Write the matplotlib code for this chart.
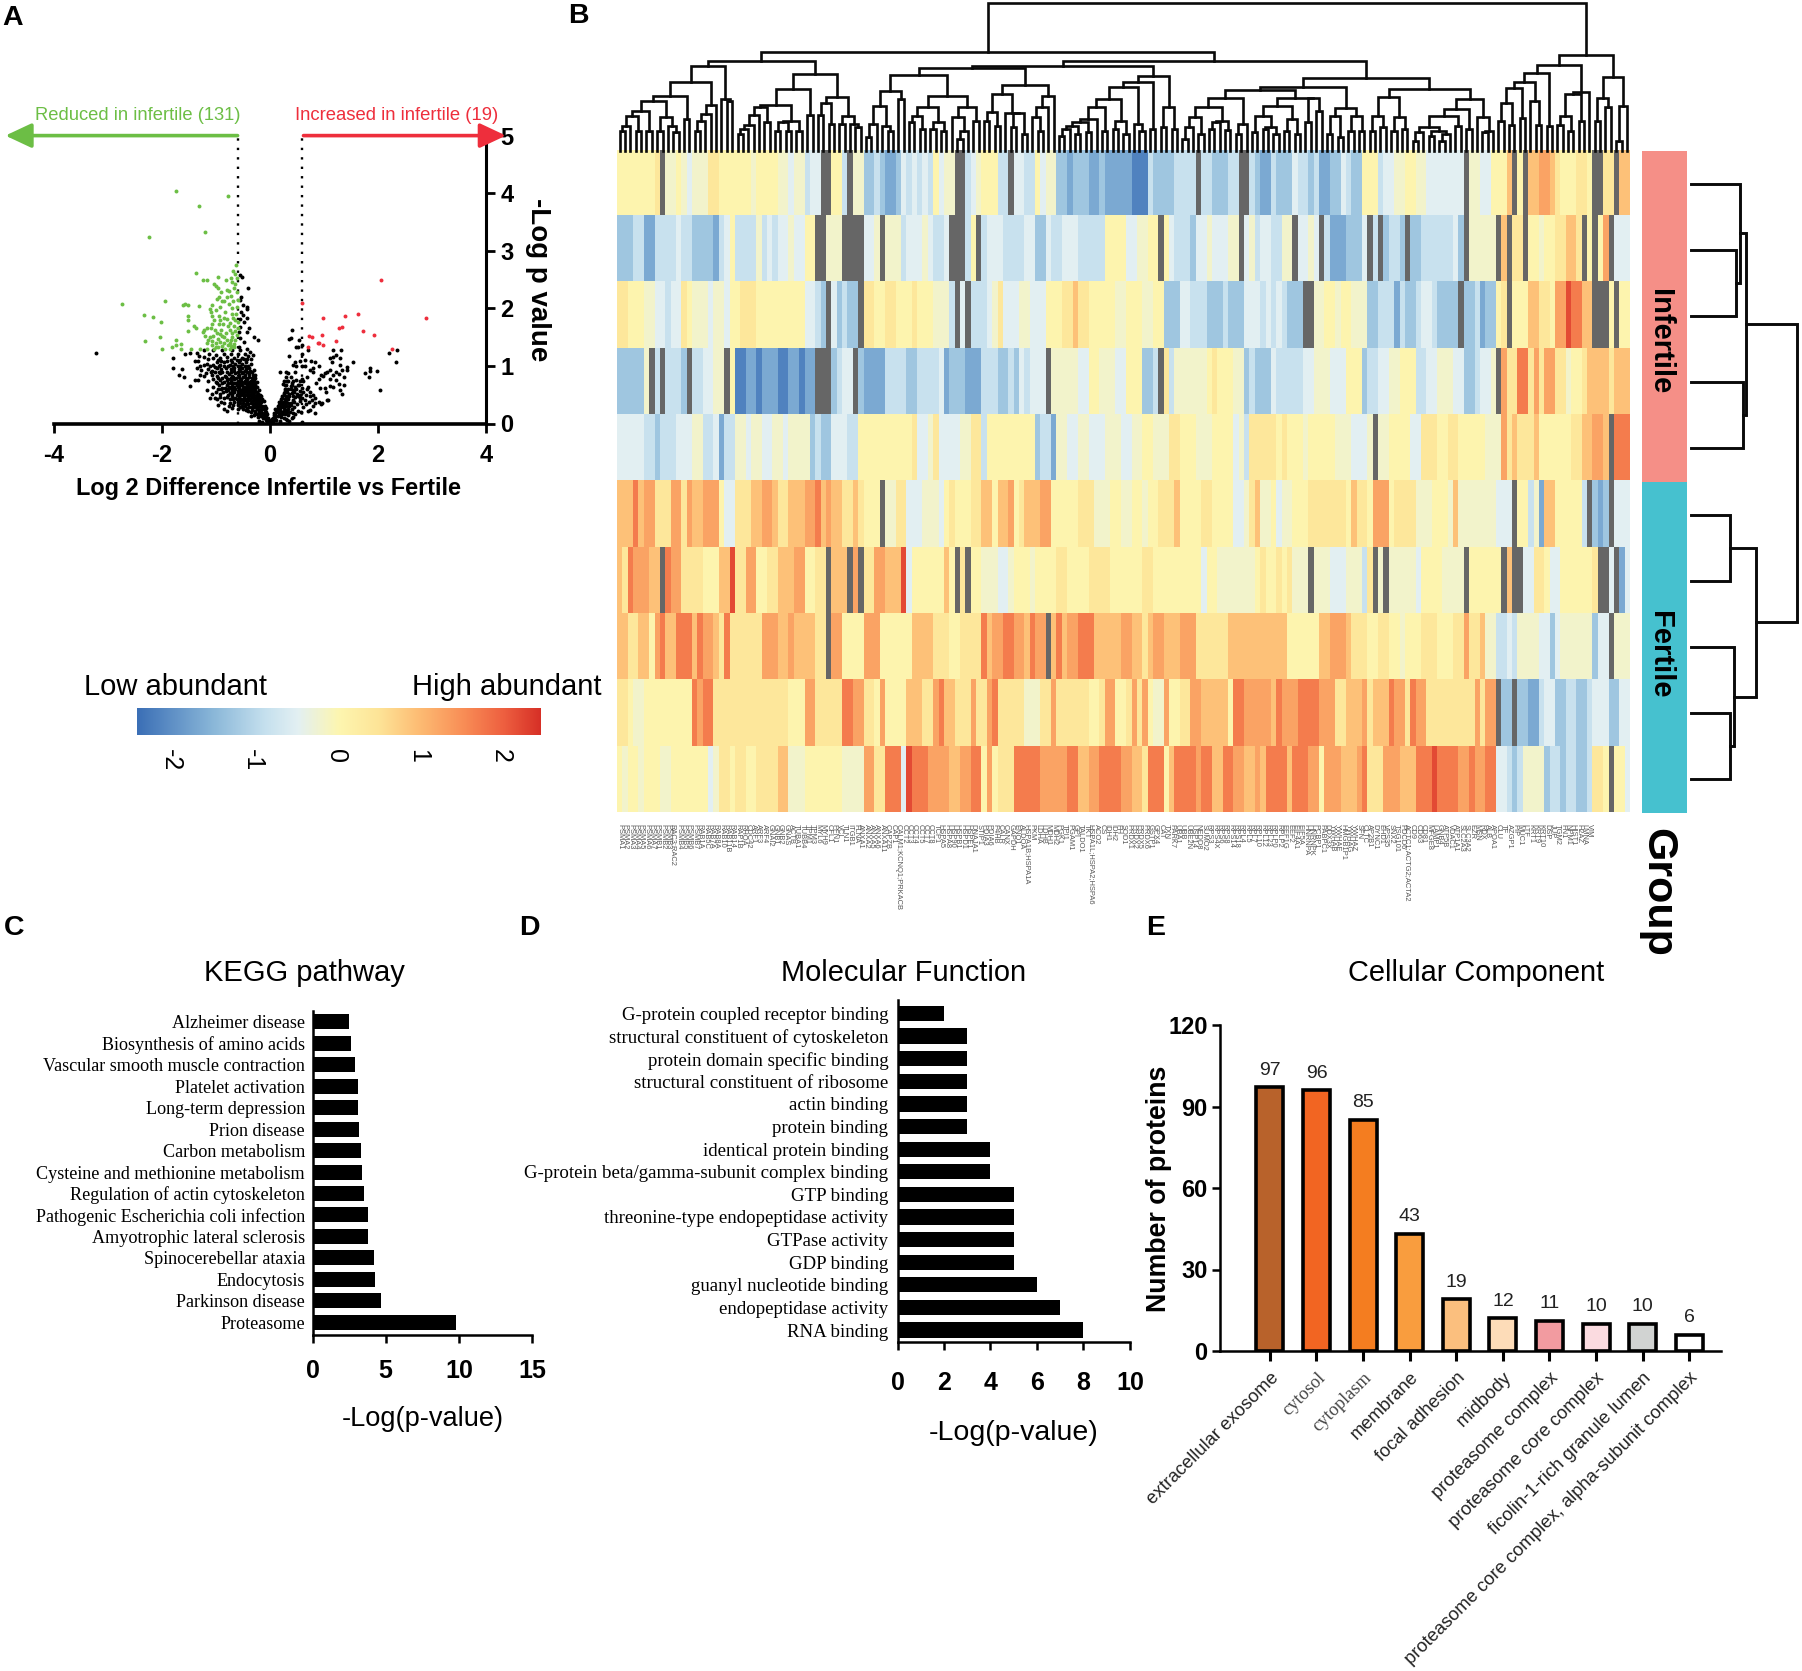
import numpy as np
import matplotlib
matplotlib.use('Agg')
import matplotlib.pyplot as plt
from matplotlib.colors import LinearSegmentedColormap, Normalize
from matplotlib.transforms import ScaledTranslation

W, H = 1802, 1671
SANS = 'Liberation Sans'
SERIF = 'Liberation Serif'
plt.rcParams['font.family'] = [SANS, 'DejaVu Sans']

# ---- panel A: volcano points
reduced_points = [(-1.74,4.03),(-0.77,3.95),(-1.31,3.78),(-2.24,3.24),(-1.21,3.33),
 (-0.63,2.75),(-1.37,2.61),(-0.68,2.64),(-0.96,2.54),(-1.25,2.49),(-1.16,2.49),(-0.82,2.50),(-0.73,2.52),(-0.65,2.60),
 (-0.71,2.46),(-0.64,2.43),(-1.04,2.43),(-1.0,2.39),(-0.96,2.35),(-0.79,2.31),(-0.62,2.29),(-0.72,2.21),(-0.99,2.17),
 (-0.94,2.20),(-0.80,2.19),(-0.85,2.13),(-0.89,2.12),(-0.60,2.14),(-1.95,2.13),(-2.75,2.07),(-1.62,2.05),(-1.57,2.07),
 (-1.51,2.05),(-1.31,2.04),(-1.08,2.06),(-1.12,1.98),(-1.10,1.94),(-0.93,2.02),(-0.83,1.94),(-0.71,2.0),(-0.63,1.91),
 (-2.33,1.88),(-2.17,1.85),(-1.51,1.87),(-1.51,1.80),(-1.08,1.87),(-1.04,1.80),(-0.94,1.87),(-0.93,1.80),(-0.79,1.81),
 (-0.69,1.83),(-0.65,1.80),(-0.60,1.77),(-2.02,1.76),(-1.41,1.69),(-1.37,1.66),(-1.51,1.61),(-1.23,1.63),(-1.25,1.59),
 (-1.16,1.65),(-1.10,1.65),(-1.02,1.63),(-0.99,1.58),(-0.78,1.69),(-0.75,1.62),(-0.71,1.58),(-0.64,1.61),(-0.62,1.54),
 (-2.04,1.50),(-1.11,1.50),(-1.14,1.45),(-1.17,1.40),(-0.89,1.52),(-0.85,1.50),(-0.96,1.46),(-1.0,1.40),(-0.80,1.45),
 (-0.75,1.40),(-0.65,1.45),(-2.31,1.43),(-1.74,1.45),(-1.74,1.37),(-1.64,1.38),(-1.82,1.33),(-1.64,1.30),(-2.0,1.30),
 (-1.46,1.30),(-1.30,1.30),(-1.16,1.30),(-1.0,1.32),(-0.89,1.35),(-0.83,1.30),(-0.74,1.30),(-0.67,1.33),(-1.07,1.72),
 (-0.87,1.72),(-0.66,1.70),(-0.92,1.42),(-0.70,1.50),(-1.07,1.36),(-0.78,1.36),(-0.68,2.12),(-0.76,2.07),(-0.90,1.62),
 (-0.96,1.33),(-0.93,1.55),(-1.05,1.52),(-0.82,1.58),(-1.2,1.52),(-1.08,1.44),(-0.72,1.34),(-0.86,1.40),(-0.66,1.38),
 (-0.94,1.72),(-0.70,1.90),(-0.85,1.84),(-0.62,2.02),(-1.0,1.97),(-0.76,2.30),(-0.67,2.36),(-0.90,2.28),(-0.62,2.52),
 (-0.74,1.75),(-0.60,1.65),(-1.03,1.30),(-0.72,1.45)]
increased_points = [(2.05,2.50),(0.59,2.10),(0.98,1.83),(1.38,1.87),(1.63,1.91),(1.33,1.68),(1.27,1.65),(1.72,1.61),
 (1.93,1.53),(0.96,1.54),(0.72,1.52),(0.78,1.50),(1.22,1.43),(0.88,1.40),(0.90,1.39),(0.98,1.36),(0.70,1.33),(2.26,1.30),(2.88,1.84)]
other_points = [(-3.22,1.22),
 (-.03,.03),(-.05,.05),(-.02,.06),(-.08,.06),(-.1,.1),(-.06,.1),(-.03,.09),(-.13,.09),(-.2,.05),(-.14,.03),
 (-.16,.13),(-.12,.15),(-.08,.14),(-.05,.16),(-.18,.17),(-.22,.12),(-.25,.16),(-.14,.19),(-.1,.19),(-.07,.2),(-.3,.14),(-.35,.13),(-.2,.2),(-.28,.19),
 (-.4,.22),(-.36,.2),(-.33,.23),(-.27,.22),(-.24,.25),(-.2,.24),(-.16,.24),(-.12,.26),(-.09,.24),(-.42,.27),(-.38,.29),(-.3,.28),(-.26,.3),(-.22,.29),(-.17,.28),(-.14,.3),(-.55,.28),(-.5,.25),(-.8,.22),(-.86,.25),(-.47,.3),
 (-.96,.32),(-.75,.35),(-.6,.32),(-.55,.35),(-.5,.36),(-.45,.33),(-.4,.34),(-.36,.36),(-.32,.33),(-.28,.36),(-.24,.34),(-.2,.35),(-.16,.37),(-.12,.39),(-.66,.38),(-.58,.4),(-.5,.4),(-.42,.38),(-.38,.4),(-.34,.39),(-.3,.4),(-.25,.39),(-.2,.4),(-.9,.37),
 (-1.11,.44),(-.98,.42),(-.85,.45),(-.75,.43),(-.7,.47),(-.64,.44),(-.58,.46),(-.53,.43),(-.48,.45),(-.44,.43),(-.4,.46),(-.36,.44),(-.32,.46),(-.28,.44),(-.24,.46),(-.2,.45),(-.17,.48),(-.62,.5),(-.55,.5),(-.5,.49),(-.46,.5),(-.41,.5),(-.37,.49),(-.33,.5),(-.29,.5),(-.25,.5),
 (-1.17,.58),(-1.0,.55),(-.92,.52),(-.82,.56),(-.74,.53),(-.7,.57),(-.66,.54),(-.6,.56),(-.56,.54),(-.52,.56),(-.48,.54),(-.44,.57),(-.4,.54),(-.36,.56),(-.32,.55),(-.28,.57),(-.24,.55),(-.21,.58),(-.8,.6),(-.64,.6),(-.58,.6),(-.54,.59),(-.49,.6),(-.45,.6),(-.41,.59),(-.37,.6),(-.33,.6),(-.29,.6),
 (-1.49,.65),(-1.05,.63),(-.95,.66),(-.88,.62),(-.8,.66),(-.76,.63),(-.7,.65),(-.66,.63),(-.62,.66),(-.57,.64),(-.52,.66),(-.48,.64),(-.43,.66),(-.39,.64),(-.35,.66),(-.31,.64),(-.27,.66),(-.24,.64),(-.72,.7),(-.62,.7),(-.55,.69),(-.47,.7),(-.41,.69),(-.36,.7),(-.3,.7),
 (-1.38,.76),(-1.33,.75),(-1.14,.74),(-1.0,.72),(-.92,.76),(-.85,.72),(-.79,.75),(-.72,.74),(-.67,.77),(-.6,.74),(-.54,.77),(-.47,.74),(-.42,.77),(-.36,.74),(-.3,.75),(-.82,.8),(-.73,.79),(-.58,.8),(-.5,.8),(-.38,.8),(-.28,.79),
 (-1.68,.85),(-1.59,.81),(-1.3,.84),(-1.22,.82),(-1.18,.88),(-1.08,.85),(-.98,.83),(-.92,.87),(-.83,.83),(-.76,.86),(-.7,.83),(-.65,.87),(-.58,.84),(-.52,.87),(-.46,.84),(-.38,.86),(-.32,.84),(-1.02,.9),(-.88,.9),(-.6,.9),(-.5,.9),(-.42,.89),
 (-1.79,.97),(-1.63,.95),(-1.36,.96),(-1.27,.93),(-1.15,.95),(-1.08,.92),(-.98,.96),(-.9,.94),(-.82,.97),(-.72,.94),(-.66,.97),(-.58,.94),(-.52,.97),(-.44,.94),(-.38,.96),(-.3,.93),
 (-1.3,1.0),(-1.23,1.02),(-1.39,1.09),(-1.33,1.09),(-1.16,1.04),(-1.05,1.02),(-.98,1.06),(-.92,1.02),(-.86,1.07),(-.75,1.02),(-.7,1.07),(-.64,1.03),(-.58,1.07),(-.52,1.03),(-.45,1.07),(-.36,1.04),
 (-1.79,1.13),(-1.57,1.2),(-1.49,1.22),(-1.36,1.22),(-1.31,1.17),(-1.22,1.16),(-1.13,1.21),(-1.06,1.14),(-1.0,1.19),(-.92,1.13),(-.86,1.2),(-.8,1.15),(-.72,1.2),(-.66,1.14),(-.6,1.2),(-.52,1.14),(-.46,1.2),(-.37,1.25),(-.31,1.19),(-.42,1.12),(-.88,1.27),(-.7,1.27),(-.55,1.27),(-1.05,1.27),(-1.22,1.28),
 (-.52,2.55),(-.55,2.58),(-.41,2.36),(-.54,2.2),(-.55,2.14),(-.5,2.06),(-.43,2.03),(-.42,1.98),(-.54,1.94),(-.5,1.88),(-.42,1.84),(-.55,1.82),(-.48,1.77),(-.55,1.68),(-.38,1.65),(-.58,1.59),(-.43,1.59),(-.29,1.5),(-.22,1.45),(-.55,1.48),(-.48,1.42),(-.58,1.33),(-.43,1.3),
 (-.6,.26),(-.44,.24),(-.68,.42),(-.52,.3),(-.34,.28),(-.47,.4),(-.27,.42),(-.23,.42),(-.78,.5),(-.71,.52),(-.62,.42),(-.56,.41),(-.87,.55),(-.77,.58),(-.68,.6),(-.6,.51),(-.51,.52),(-.43,.52),(-.35,.52),(-.3,.54),
 (-.9,.6),(-.83,.62),(-.73,.61),(-.64,.7),(-.59,.63),(-.5,.62),(-.42,.62),(-.38,.56),(-.33,.64),(-.29,.67),(-.98,.7),(-.88,.7),(-.77,.7),(-.68,.7),(-.58,.71),(-.52,.72),(-.45,.72),(-.39,.72),(-.33,.72),(-.25,.72),
 (-1.06,.78),(-.96,.79),(-.88,.79),(-.78,.78),(-.69,.8),(-.63,.79),(-.55,.75),(-.45,.79),(-.33,.79),(-.3,.82),(-1.1,.9),(-.95,.9),(-.8,.9),(-.73,.9),(-.67,.92),(-.55,.92),(-.47,.92),(-.37,.91),(-.34,.9),(-.28,.84),
 (-1.12,1.0),(-1.02,.98),(-.94,.99),(-.85,1.0),(-.78,1.0),(-.68,1.0),(-.6,1.0),(-.55,.99),(-.47,1.0),(-.41,.99),(-.97,1.1),(-.9,1.08),(-.8,1.09),(-.72,1.1),(-.62,1.1),(-.56,1.1),(-.48,1.12),(-.4,1.17),(-1.14,1.12),(-.35,1.12),
 (-.18,.32),(-.1,.3),(-.07,.27),(-.22,.37),(-.15,.42),(-.19,.5),(-.22,.52),(-.27,.62),(-.44,.62),(-.4,.42),(-1.02,.45),(-.92,.46),(-.8,.46),(-.68,.32),(-.6,.38),(-.7,.27),(-.76,.3),(-.85,.35),(-1.08,.52),(-.96,.6),
 (.07,.18),(.12,.2),(.17,.14),(.1,.25),(.23,.2),(.14,.3),(.2,.36),(.24,.3),(.3,.3),(.3,.24),(.16,.38),(.22,.44),(.27,.38),(.34,.36),(.39,.32),(.25,.49),(.31,.44),(.36,.52),(.42,.48),(.45,.37),(.27,.56),(.3,.58),(.38,.6),(.44,.54),(.4,.66),(.3,.8),(.38,.8),(.48,.75),(.24,.68),(.34,.74),
 (.02,.03),(.05,.05),(.03,.07),(.08,.08),(.05,.1),(.12,.06),(.18,.05),(.1,.11),(.14,.13),(.07,.14),(.2,.12),(.25,.1),(.3,.08),(.36,.05),(.1,.17),(.16,.18),(.22,.17),(.28,.16),(.34,.14),(.42,.12),(.13,.22),(.19,.23),(.25,.22),(.31,.2),(.37,.2),(.46,.17),(.15,.27),(.2,.28),(.26,.27),(.33,.26),(.4,.25),(.52,.22),(.58,.2),(.17,.32),(.22,.33),(.28,.32),(.35,.3),(.44,.28),(.62,.28),(.7,.22),(.19,.37),(.24,.38),(.3,.37),(.38,.36),(.5,.34),(.66,.33),(.8,.3),(.21,.42),(.27,.43),(.33,.42),(.42,.41),(.55,.39),(.72,.37),(.84,.35),(.95,.33),(.23,.48),(.29,.48),(.36,.47),(.46,.46),(.52,.47),(.6,.45),(.78,.4),(.9,.37),(1.05,.4),(.26,.53),(.32,.54),(.4,.53),(.5,.52),(.56,.5),(.66,.5),(.74,.47),(.27,.6),(.34,.6),(.42,.58),(.48,.6),(.55,.57),(.62,.55),(.3,.66),(.38,.65),(.46,.64),(.52,.67),(.6,.62),(.68,.6),
 (.40,1.62),(.36,1.46),(.38,1.48),(.54,1.45),(.59,1.37),(.48,1.33),(.51,1.32),(.71,1.28),(.36,1.18),(.59,1.2),(.65,1.1),(.56,1.09),(.46,1.06),(.43,1.02),(.49,.99),(.59,.99),(.65,1.0),(.75,1.09),(.83,1.06),(.9,.99),(.8,.96),(.74,.93),(.8,.9),(1.17,1.28),(1.31,1.27),(1.22,1.19),(1.3,1.13),(1.11,1.13),(1.17,1.15),(1.14,1.07),(1.3,1.02),(1.54,1.06),(1.43,.98),(1.42,.93),(1.33,.93),(1.22,.9),(1.11,.93),(1.05,.9),(1.02,.88),(1.17,.84),(1.27,.86),(1.37,.81),(1.11,.78),(.94,.84),(.9,.78),(.69,.81),(.59,.77),(.46,.9),(.3,.9),(.19,.9),(.34,.88),(.25,.73),(.28,.67),(.31,.73),(.4,.71),(.43,.73),(.56,.73),(.54,.67),(.62,.73),(.71,.64),(.74,.55),(.86,.7),(.98,.83),(.93,.61),(1.02,.61),(1.04,.55),(1.11,.65),(1.17,.63),(1.28,.69),(1.37,.67),(1.3,.58),(1.33,.52),(1.22,.76),(1.76,.87),(1.84,.8),(1.86,.97),(1.86,.92),(1.98,.91),(2.04,.58),(2.2,1.22),(2.35,1.27),(2.33,1.06),(.56,.44),(.65,.41),(.83,.44),(.96,.35),(1.08,.41),(.8,.5),(.83,.19),(.74,.24),(.59,.03),(.43,.18),(.4,.09),(.31,.06)]

# ---- panel B: heatmap rows, run-length coded abundance levels (# = missing)
level_values = dict(a=-2.2, b=-1.7, c=-1.3, d=-0.85, e=-0.5, f=-0.2, g=0.03, h=0.4, i=0.9, j=1.25, k=1.7, l=2.2)
heat_rows = [
 "g7 h1 #1 f2 g1 f1 e1 f3 h2 g1 g5 f1 g4 f2 e1 f2 d1 e2 #2 g2 d1 #1 f2 c2 d1 c1 b2 c1 e1 d1 e1 d1 e1 d1 "
 "g1 e1 f2 #2 d1 e1 f1 g3 d2 #1 e2 d2 g1 e1 f2 c2 b1 c3 b2 c1 b5 a3 d1 c2 c2 d4 #1 d2 c3 d2 #2 d1 "
 "c1 b2 d1 c3 e1 d2 c1 d1 b2 c2 e1 d1 c2 g3 d1 e2 f2 g2 f2 e7 #1 f2 e2 g3 i1 #1 g1 #1 i2 j2 i1 h1 g3 h2 g1 #2 h2 #1 i2",
 "c2 c1 d1 d1 b2 d3 d1 e1 d2 c4 b1 d1 e1 g1 d4 f1 d1 e1 d1 e2 f1 e2 g2 #2 f3 #4 e2 f1 #1 f3 d1 e3 f1 e1 "
 "d2 e1 #3 d1 g1 #1 d1 e1 e2 d4 e2 c2 e1 d2 e3 d4 d1 g4 e2 f2 g2 #1 g1 e1 d3 c1 e2 f1 e3 f2 #1 e1 "
 "f1 d1 e2 d2 f2 #1 e2 f1 e1 #1 d1 b3 c3 e1 #1 d1 #1 c1 d2 c1 #1 c2 d6 e1 c1 #1 f5 #1 i1 #1 h2 #1 g2 f1 g2 h2 i2 h1 #1 g1 #1 g1 j1 #1 e2",
 "h2 g3 f2 e2 d1 e2 h1 g1 f3 e1 f2 e1 g2 h3 g3 g6 e2 d1 c1 #1 e1 c1 d1 c2 #1 h2 g2 h2 g3 h1 g3 "
 "f3 d1 #1 e1 #1 d3 e1 f1 h1 e3 f2 e3 g3 h2 i1 h2 g3 g2 f2 g3 f2 g2 c3 e2 d3 c3 d1 c3 e2 "
 "e1 d1 e1 d1 e1 d1 c1 c1 c1 #2 f2 g2 f1 g2 f3 c2 d3 b1 d1 c2 d1 e2 d1 c4 #1 c2 d1 b1 c2 g1 h1 #1 g3 i2 h2 g1 j2 l1 k1 k1 i2 #3 g1 #1 g2",
 "c5 f1 #1 d1 #1 d3 c1 #1 d2 e2 f2 #1 g1 a2 b2 a1 b3 a2 b2 a1 b2 #3 c1 d1 e2 #1 c1 b4 d4 c2 d3 "
 "d1 e1 b1 c3 b1 b2 d3 c2 d1 c1 e1 d1 e3 #1 f3 f2 e2 g2 f3 e2 g3 c2 d1 #1 h1 d1 f6 g1 h1 g1 g2 f2 c1 "
 "d1 c1 c2 e1 d2 d3 e2 f3 e3 g3 c1 d2 e2 f2 g3 d2 e2 f3 e2 c2 d1 e2 f1 #1 j1 h2 k2 h1 j1 h1 j2 h2 f1 g2 h1 i4 h1 i2",
 "e5 d2 c1 d1 d2 e2 e1 f2 d2 e1 b1 d2 f2 e1 f2 e2 f2 e1 f2 f2 c1 d1 c2 e3 d2 g10 h1 e2 f1 "
 "h1 e1 e3 f2 h2 d1 g8 g1 c1 d2 b1 f2 e2 f2 e3 f3 e2 f2 g2 f3 h2 g3 f3 g4 e1 f1 d1 h1 "
 "h3 h1 g1 h1 g3 f1 g2 g3 f3 e3 f1 #1 f2 g4 e2 h3 g2 h2 g2 g3 f3 j1 h1 i1 h3 i1 g6 h2 i2 j2 i1 #1 k2 k1",
 "i3 k1 i1 j2 h3 j2 h1 j1 i2 j3 g1 e2 h2 h1 i2 j2 i1 h2 i3 j2 k1 i1 j1 i2 h2 i1 h1 g3 #1 f2 h2 e3 f2 "
 "f1 e1 g1 h1 g3 h2 i2 g1 i2 j1 g1 h1 i3 j2 g1 g4 h3 f3 g2 f2 g2 f1 g2 h1 h2 i1 g4 h2 g4 e2 f1 h1 "
 "i1 f1 f1 g1 e1 f2 g3 h2 h5 g1 i1 h2 g1 j3 g1 h4 f3 g3 f1 i1 f7 e3 #1 g2 d1 f1 b1 i2 g5 d1 #1 c1 b1 c1 #1 e3",
 "i1 h1 k1 j3 i2 #1 k1 j2 h4 g3 i2 l1 h2 j2 g2 h2 i3 j2 g2 h2 #1 i1 i2 #1 j1 #1 h2 j2 i3 l1 e1 g4 "
 "g2 i1 g1 #1 h1 #1 g2 f3 e2 f1 g3 f1 g2 g2 h2 g2 g2 h3 h1 g6 h2 g3 g6 e1 g2 f3 f4 "
 "g1 h1 g2 h1 g1 h1 f3 #1 f3 e3 f3 d1 h1 #1 f1 #1 f5 e1 g4 f4 #1 g6 #1 i1 #2 e2 h2 g1 e2 g6 h1 #2 e1 #1 b1 e1",
 "i2 h2 i2 g1 j1 k1 i2 k3 i1 k1 j2 i1 h1 k1 h5 h1 j3 i2 j1 i2 i2 h2 #1 j2 g4 j3 g6 i4 "
 "h2 h1 g1 g1 h4 k1 i1 j2 k2 j2 i1 k1 j2 #1 i1 k1 i1 j2 k3 i3 i2 j2 i2 h1 i1 j2 i3 j3 h6 i5 "
 "i6 g6 i2 j3 i1 h3 g2 h2 g2 f1 g3 h3 g3 h2 j1 h2 i1 f2 d2 e1 d1 f4 e2 c1 e1 f6 c1 e2 #1 f3",
 "h2 g1 f2 g3 g6 k1 j1 k2 h3 h6 h5 g3 j2 h5 k2 j2 h2 g1 j1 g4 i3 h2 "
 "j1 k1 i2 h3 j1 h2 j1 k1 h5 f3 h2 j1 h6 g2 h1 j2 g2 h1 j1 h1 j1 g1 f2 j1 g2 h2 j2 i5 g1 k2 j2 "
 "j3 i1 k1 j3 k1 k1 k2 j3 h2 i1 i2 j1 h1 i3 k1 j2 h1 k1 j2 h9 j1 h1 j2 #1 c2 #1 c2 b2 d1 e2 c2 d2 c2 d1 e3 c2 e2",
 "g1 f1 g2 f1 g3 f2 g7 e1 f1 h2 g1 h2 g2 h4 i2 f3 g2 g5 f4 j2 h2 k3 e1 l1 k2 k1 j1 "
 "j3 i2 j2 k1 k1 g1 j1 g1 h1 h2 k3 k2 j3 j2 k2 i2 j2 k2 k2 j2 i2 h1 k3 g1 i1 k4 j1 k2 i2 k2 j2 i2 "
 "j1 i1 k4 i1 k3 j2 g1 j3 i3 j1 k1 h3 j3 i3 k3 l1 k4 j2 k1 j2 k2 e2 d1 c1 d1 f4 c1 d2 c1 d2 c2 d1 h2 g1 #1 g2 e1"]
top_link_heights = [58,73,103,60,118,60,148,60,100,75,55,163,95,205,60,88,110,138,253,155,148,268,
 50,65,78,108,130,85,138,60,85,60,88,60,185,108,231,108,143,80,161,80,103,80,70,295,
 40,80,135,75,60,180,155,228,85,105,65,130,65,85,60,163,100,35,60,130,90,248,
 90,115,75,171,113,70,113,50,198,100,60,130,165,253,
 45,65,75,50,85,55,95,130,60,155,65,90,50,190,80,60,205,65,225,70,130,65,268,
 35,70,100,50,130,65,85,90,62,158,50,80,181,55,105,65,70,50,135,60,95,50,158,85,158,118,191,50,105,40,128,60,105,60,218,
 60,105,70,160,60,100,65,185,30,55,70,45,60,30,50,105,75,125,65,155,100,55,60,443,
 88,143,78,188,98,205,148,78,233,75,258,78,103,60,170,90,175,288,90,158,130,221,30,133]
side_link_heights = [127,117,145,135,277,102,170,112,102]
gene_labels = """PSMA1 PSMA2 PSMA3 PSMA4 PSMA5 PSMA6 PSMA7 PSMB1 PSMB2 PSMB3 RAC3;RAC2 PSMB4 PSMB5 PSMB6 PSMB7 RAB1A RAB5C RAB7A RAB8A RAB10
RAB11B RAB14 RAP1B RHOA CDC42 ARF1 ARF3 ARF4 GNAI2 GNB1 GNB2 GNAS ACTB TUBA1 TUBB4 TPM1 TPM3 MYL6 MYH9 CFL1 PFN1 VCL TLN1 ITGB1 FLNA ANXA1 ANXA2 ANXA5 ANXA6 ANXA11
CAPZB CAP1 CALM1;KCNQ1;PRKACB CCT2 CCT3 CCT4 CCT5 CCT7 CCT8 TCP1 HSPA5 HSPA8 HSP90 HSPB1 HSPD1 HSPE1 DNAJA1 STIP1 PDIA3 PDIA6 P4HB CALR CANX GAPDH ENO1 ALDOA HSPA1B;HSPA1A PKM LDHA LDHB
MDH1 MDH2 PGK1 TPI1 PGAM1 GPI TALDO1 TKT HSPA1L;HSPA2;HSPA6 ACO2 CS IDH1 IDH2 FH SOD1 PRDX1 PRDX2 PRDX5 PRDX6 GSTP1 GPX4 CAT TXN PARK7 UBA1 UBB UBE2N USP14 NEDD8 SUMO2
RPS3 RPS4X RPS6 RPS8 RPS14 RPS18 RPL4 RPL5 RPL7 RPL10 RPL12 RPL23 RPLP0 RPLP2 EEF1G EEF2 EIF4A1 EIF5A HNRNPA HNRNPK PCBP1 PABPC1 DDX3X YWHAB YWHAE HMGB1P1 YWHAG YWHAZ SFN CLTC
AP2B1 DYNC1 EHD1 VPS35 SNX2 TSG101 PDCD6 ACTC1;ACTG2;ACTA2 CD9 CD63 CD81 MFGE8 LAMP1 GNB4 ATP5B VDAC1 ATP1A1 SLC2A3 SLC3A2 EZR MSN RDX ALB APOA1 CLU TF AZGP1 PIP MUC1 LTF
KRT1 KRT9 KRT10 DSP JUP TGM2 FN1 NPM1 HIST1 H2AZ LMNA VIM""".split()
colorbar_ticks = [-2, -1, 0, 1, 2]

# ---- panels C, D, E
kegg_terms = ["Alzheimer disease","Biosynthesis of amino acids","Vascular smooth muscle contraction","Platelet activation",
 "Long-term depression","Prion disease","Carbon metabolism","Cysteine and methionine metabolism","Regulation of actin cytoskeleton",
 "Pathogenic Escherichia coli infection","Amyotrophic lateral sclerosis","Spinocerebellar ataxia","Endocytosis","Parkinson disease","Proteasome"]
kegg_values = [2.5,2.6,2.9,3.1,3.1,3.2,3.3,3.4,3.5,3.8,3.8,4.2,4.3,4.7,9.8]
mf_terms = ["G-protein coupled receptor binding","structural constituent of cytoskeleton","protein domain specific binding",
 "structural constituent of ribosome","actin binding","protein binding","identical protein binding",
 "G-protein beta/gamma-subunit complex binding","GTP binding","threonine-type endopeptidase activity","GTPase activity",
 "GDP binding","guanyl nucleotide binding","endopeptidase activity","RNA binding"]
mf_values = [2,3,3,3,3,3,4,4,5,5,5,5,6,7,8]
cc_terms = ["extracellular exosome","cytosol","cytoplasm","membrane","focal adhesion","midbody","proteasome complex",
 "proteasome core complex","ficolin-1-rich granule lumen","proteasome core complex, alpha-subunit complex"]
cc_values = [97,96,85,43,19,12,11,10,10,6]
cc_colors = ['#b8622b','#f26522','#f47d20','#f99d3e','#fbbf7e','#fddcb8','#f29ba0','#fbdbe0','#d1d3d2','#ffffff']


def ax_px(x0, y0, x1, y1):
    return fig.add_axes([x0/W, 1-y1/H, (x1-x0)/W, (y1-y0)/H])


def text_px(x, y, s, **kw):
    kw.setdefault('ha', 'center')
    kw.setdefault('va', 'center')
    fig.text(x/W, 1-y/H, s, **kw)


def decode_row(row, n):
    vals = []
    for tok in row.split():
        v = np.nan if tok[0] == '#' else level_values[tok[0]]
        vals += [v]*int(tok[1:])
    vals = (vals + [vals[-1]]*n)[:n]
    return vals


def draw_tree(ax, lo, hi, links, vertical=True):
    # merge height between neighbours gives the whole tree
    if lo == hi:
        return lo + 0.5, 0
    k = lo + int(np.argmax(links[lo:hi]))
    pa, ha = draw_tree(ax, lo, k, links, vertical)
    pb, hb = draw_tree(ax, k+1, hi, links, vertical)
    h = links[k]
    if vertical:
        ax.plot([pa, pa, pb, pb], [ha, h, h, hb], color='#0a0a0a', lw=1.9, solid_joinstyle='miter', clip_on=False)
    else:
        ax.plot([ha, h, h, hb], [pa, pa, pb, pb], color='#0a0a0a', lw=2.1, solid_joinstyle='miter', clip_on=False)
    return (pa+pb)/2, h


def style_bar_axes(ax):
    for sp in ['top', 'right']:
        ax.spines[sp].set_visible(False)
    for sp in ['left', 'bottom']:
        ax.spines[sp].set_linewidth(1.8)


fig = plt.figure(figsize=(W/100, H/100), dpi=100)

for s, x, y in [('A', 13, 18), ('B', 578, 16), ('C', 14, 928), ('D', 529, 928), ('E', 1156, 928)]:
    text_px(x, y, s, fontsize=20.5, fontweight='bold')

# panel A
ax = ax_px(54, 135.6, 486, 423.5)
ax.set_xlim(-4, 4)
ax.set_ylim(0, 5)
for pts, c in [(other_points, 'black'), (reduced_points, '#6cbe45'), (increased_points, '#ee2e3c')]:
    xs, ys = zip(*pts)
    ax.scatter(xs, ys, s=8, color=c, linewidths=0, clip_on=False, zorder=3)
for xv in [-0.59, 0.59]:
    ax.plot([xv, xv], [0, 5], color='black', lw=1.7, ls=(0, (1, 3)), zorder=2)
ax.annotate('', xy=(-4.9, 5), xytext=(-0.6, 5), annotation_clip=False,
            arrowprops=dict(arrowstyle='-|>,head_length=1.6,head_width=0.75', color='#6cbe45', lw=2.6, shrinkA=0, shrinkB=0))
ax.annotate('', xy=(4.37, 5), xytext=(0.62, 5), annotation_clip=False,
            arrowprops=dict(arrowstyle='-|>,head_length=1.6,head_width=0.75', color='#ee2e3c', lw=2.6, shrinkA=0, shrinkB=0), zorder=6)
ax.spines['left'].set_visible(False)
ax.spines['top'].set_visible(False)
ax.spines['right'].set_linewidth(2.2)
ax.spines['bottom'].set_linewidth(2.6)
ax.yaxis.tick_right()
ax.set_xticks([-4, -2, 0, 2, 4], ['-4', '-2', '0', '2', '4'])
ax.set_yticks([0, 1, 2, 3, 4, 5])
ax.tick_params(width=2, length=6.5, labelsize=17, pad=4)
ax.tick_params(axis='x', pad=8)
for t in ax.get_xticklabels() + ax.get_yticklabels():
    t.set_fontweight('bold')
text_px(240, 115, 'Reduced in infertile (131)', ha='right', fontsize=13.2, color='#6cbe45')
text_px(295, 116, 'Increased in infertile (19)', ha='left', fontsize=13.3, color='#ee2e3c')
text_px(269, 488, 'Log 2 Difference Infertile vs Fertile', fontsize=16.9, fontweight='bold')
text_px(538, 280, '-Log p value', fontsize=20, fontweight='bold', rotation=270)

# colour scale shared by heatmap and legend
heat_cmap = LinearSegmentedColormap.from_list('abundance', [
    (0.0, '#3b6fb6'), (0.19, '#8bb8d9'), (0.316, '#c5e0ee'), (0.398, '#e3f0f3'), (0.5, '#fdf6b0'),
    (0.60, '#fee497'), (0.704, '#fdba72'), (0.806, '#f98f57'), (0.908, '#ee6040'), (1.0, '#d73027')])
heat_cmap.set_bad('#666666')
heat_norm = Normalize(-2.45, 2.45)

# panel B
n_cols = len(top_link_heights) + 1
heat = np.array([decode_row(r, n_cols) for r in heat_rows])
ax = ax_px(617, 150.5, 1629.6, 812.5)
ax.imshow(heat, cmap=heat_cmap, norm=heat_norm, aspect='auto', interpolation='nearest', extent=(0, n_cols, 10, 0))
for sp in ax.spines.values():
    sp.set_visible(False)
ax.set_yticks([])
ax.set_xticks(np.arange(len(gene_labels[:n_cols])) + 0.5, gene_labels[:n_cols], rotation=270, fontsize=5.4, color='#555555')
ax.tick_params(axis='x', length=0, pad=8)

ax = ax_px(617, 3, 1629.6, 150.5)
ax.set_xlim(0, n_cols)
ax.set_ylim(0, 443)
ax.axis('off')
draw_tree(ax, 0, n_cols-1, top_link_heights)

ax = ax_px(1691, 150.5, 1797, 812.5)
ax.set_xlim(0, 277)
ax.set_ylim(10, 0)
ax.axis('off')
draw_tree(ax, 0, 9, side_link_heights, vertical=False)

ax = ax_px(1642, 151, 1687, 812.5)
ax.set_xlim(0, 1)
ax.set_ylim(10, 0)
ax.axis('off')
ax.barh([2.5, 7.5], [1, 1], height=5, left=0, color=['#f58f87', '#46c1cf'])
text_px(1660, 342, 'Infertile', fontsize=21, fontweight='bold', rotation=270)
text_px(1660, 655, 'Fertile', fontsize=21, fontweight='bold', rotation=270)
text_px(1657, 892, 'Group', fontsize=31, fontweight='bold', rotation=270)

# legend of panel B
ax = ax_px(137, 708, 541, 735)
ax.imshow(np.linspace(-2.45, 2.45, 256)[None, :], cmap=heat_cmap, norm=heat_norm, aspect='auto', extent=(-2.41, 2.49, 0, 1))
for sp in ax.spines.values():
    sp.set_visible(False)
ax.set_yticks([])
ax.set_xticks(colorbar_ticks, [str(v) for v in colorbar_ticks], rotation=270, fontsize=18)
ax.tick_params(axis='x', length=0, pad=10)
text_px(84, 687, 'Low abundant', ha='left', fontsize=21)
text_px(601, 687, 'High abundant', ha='right', fontsize=21)

# panel C
ax = ax_px(312.6, 1011, 532, 1335)
ax.barh(range(len(kegg_values)), kegg_values, height=0.7, color='black')
ax.set_xlim(0, 15)
ax.set_ylim(14.6, -0.51)
ax.set_xticks([0, 5, 10, 15])
ax.set_yticks(range(len(kegg_terms)), kegg_terms, family=SERIF, fontsize=13.1)
ax.tick_params(axis='y', length=0, pad=5.5)
ax.tick_params(axis='x', width=1.8, length=6, labelsize=18, pad=11)
for t in ax.get_xticklabels():
    t.set_fontweight('bold')
style_bar_axes(ax)
text_px(304.5, 973, 'KEGG pathway', fontsize=21)
text_px(423, 1419, '-Log(p-value)', fontsize=19.6)

# panel D
ax = ax_px(897.5, 1000, 1130, 1342)
ax.barh(range(len(mf_values)), mf_values, height=0.68, color='black')
ax.set_xlim(0, 10)
ax.set_ylim(14.53, -0.6)
ax.set_xticks([0, 2, 4, 6, 8, 10])
ax.set_yticks(range(len(mf_terms)), mf_terms, family=SERIF, fontsize=13.6)
ax.tick_params(axis='y', length=0, pad=6.5)
ax.tick_params(axis='x', width=1.8, length=6, labelsize=18, pad=15)
for t in ax.get_xticklabels():
    t.set_fontweight('bold')
style_bar_axes(ax)
text_px(904, 973, 'Molecular Function', fontsize=20.9)
text_px(1014, 1433, '-Log(p-value)', fontsize=20.5)

# panel E
ax = ax_px(1220, 1025, 1721, 1351)
ax.bar(range(len(cc_values)), cc_values, width=0.58, color=cc_colors, edgecolor='black', linewidth=2.6)
for i, v in enumerate(cc_values):
    ax.text(i, v + 3.2, str(v), ha='center', va='bottom', fontsize=14, color='#222222')
ax.set_xlim(-1.07, 9.68)
ax.set_ylim(0, 120)
ax.set_yticks([0, 30, 60, 90, 120])
ax.set_xticks(range(len(cc_terms)))
ax.set_xticklabels(cc_terms, rotation=45, ha='right', va='top', rotation_mode='anchor', fontsize=13.2, color='#222222')
shift = ScaledTranslation(-3/72, -1/72, fig.dpi_scale_trans)
for t, name in zip(ax.get_xticklabels(), cc_terms):
    t.set_transform(t.get_transform() + shift)
    if name in ('cytosol', 'cytoplasm'):
        t.set_family(SERIF)
        t.set_color('#444444')
ax.tick_params(axis='y', width=1.8, length=6, labelsize=17, pad=3)
ax.tick_params(axis='x', width=2.2, length=7, pad=6)
for t in ax.get_yticklabels():
    t.set_fontweight('bold')
style_bar_axes(ax)
text_px(1159, 1189, 'Number of proteins', fontsize=19.3, fontweight='bold', rotation=90)
text_px(1476, 973, 'Cellular Component', fontsize=20.9)

fig.savefig('out.png', dpi=100)
